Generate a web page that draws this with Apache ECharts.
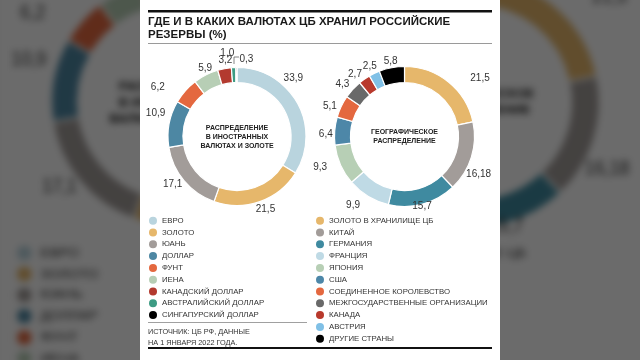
<!DOCTYPE html>
<html><head><meta charset="utf-8">
<script src="https://cdn.jsdelivr.net/npm/echarts@6/dist/echarts.min.js"></script>
<style>
html,body{margin:0;padding:0;width:640px;height:360px;overflow:hidden;background:#6a6a6a;}
#bg{position:absolute;left:0;top:0;width:640px;height:360px;transform:scale(1.79);transform-origin:316px 180px;filter:blur(2px) brightness(0.42);}
#main{position:absolute;left:0;top:0;width:640px;height:360px;}
</style></head><body>
<div id="bg"></div><div id="main"></div>
<script>
// ---- data ----
const titleText = 'ГДЕ И В КАКИХ ВАЛЮТАХ ЦБ ХРАНИЛ РОССИЙСКИЕ\nРЕЗЕРВЫ (%)';
const leftCenterText = 'РАСПРЕДЕЛЕНИЕ\nВ ИНОСТРАННЫХ\nВАЛЮТАХ И ЗОЛОТЕ';
const rightCenterText = 'ГЕОГРАФИЧЕСКОЕ\nРАСПРЕДЕЛЕНИЕ';
const sourceText = 'ИСТОЧНИК: ЦБ РФ, ДАННЫЕ\nНА 1 ЯНВАРЯ 2022 ГОДА.';

const currencyNames = ['ЕВРО','ЗОЛОТО','ЮАНЬ','ДОЛЛАР','ФУНТ','ИЕНА','КАНАДСКИЙ ДОЛЛАР','АВСТРАЛИЙСКИЙ ДОЛЛАР','СИНГАПУРСКИЙ ДОЛЛАР'];
const currencyValues = [33.9, 21.5, 17.1, 10.9, 6.2, 5.9, 3.2, 1.0, 0.3];

const countryNames = ['ЗОЛОТО В ХРАНИЛИЩЕ ЦБ','КИТАЙ','ГЕРМАНИЯ','ФРАНЦИЯ','ЯПОНИЯ','США','СОЕДИНЕННОЕ КОРОЛЕВСТВО','МЕЖГОСУДАРСТВЕННЫЕ ОРГАНИЗАЦИИ','КАНАДА','АВСТРИЯ','ДРУГИЕ СТРАНЫ'];
const countryValues = [21.5, 16.18, 15.7, 9.9, 9.3, 6.4, 5.1, 4.3, 2.7, 2.5, 5.8];

// ---- styles ----
const currencyColors = ['#b9d4de','#e6b76b','#a29c99','#4d87a3','#e4683f','#b7ceb5','#b33a2f','#3d9b83','#000000'];
const countryColors = ['#e6b76b','#a29c99','#3f8aa0','#bfdae5','#b7cfb5','#4d87a8','#e4683f','#696969','#b8392c','#80c0e6','#000000'];
// label nudges (dx, dy) to mimic the hand-placed labels of the original
const currencyLabelNudge = [[-24,-22],[-11,2],[8,0],[7,-9],[-11,0],[14,-1],[14,-2],[6,-8],[22,-2]];
const countryLabelNudge = [[13,1],[-16,15],[-17,-4],[0,4],[-3,0],[9,4],[6,2],[6,-1],[6,0],[10,-2],[12,-1]];
const FONT = '"Liberation Sans", Arial, sans-serif';

function fmt(v){ return (Number.isInteger(v) ? v.toFixed(1) : String(v)).replace('.', ','); }

function buildData(names, values, colors){
  return names.map((n,i)=>({name:n, value:values[i], itemStyle:{color:colors[i]}}));
}

function pieSeries(names, values, colors, nudge, center, radius){
  return {
    type:'pie', center:center, radius:radius, startAngle:90, clockwise:true,
    avoidLabelOverlap:false, silent:true, minShowLabelAngle:0,
    itemStyle:{borderColor:'#ffffff', borderWidth:1.2},
    label:{show:true, position:'outside', formatter:p=>fmt(p.value), fontSize:10, color:'#333', fontFamily:FONT},
    labelLine:{show:false, length:6, length2:0},
    labelLayout:function(p){ const d = nudge[p.dataIndex]; return {dx:d[0], dy:d[1], hideOverlap:false}; },
    data: buildData(names, values, colors)
  };
}

function legend(names, left){
  return {
    data:names, orient:'vertical', left:left, top:216.7, padding:0, icon:'circle',
    itemWidth:8, itemHeight:8, itemGap:3.8, selectedMode:false,
    itemStyle:{borderWidth:0},
    textStyle:{fontSize:7.8, color:'#333', fontFamily:FONT, lineHeight:8}
  };
}

const option = {
  backgroundColor:'transparent',
  animation:false,
  title:{text:titleText, left:148, top:16, padding:0, textStyle:{fontSize:11.5, fontWeight:'bold', color:'#1a1a1a', fontFamily:FONT, lineHeight:12.5}},
  legend:[legend(currencyNames,149), legend(countryNames,316)],
  graphic:[
    {type:'rect', z:-10, shape:{x:140,y:0,width:360,height:360}, style:{fill:'#ffffff'}},
    {type:'rect', shape:{x:148,y:10,width:344,height:2.5}, style:{fill:'#111'}},
    {type:'rect', shape:{x:148,y:43,width:344,height:1}, style:{fill:'#9a9a9a'}},
    {type:'rect', shape:{x:148,y:322,width:159,height:1}, style:{fill:'#a0a0a0'}},
    {type:'rect', shape:{x:148,y:347,width:344,height:2}, style:{fill:'#111'}},
    {type:'line', shape:{x1:234,y1:64,x2:234,y2:57}, style:{stroke:'#666', lineWidth:0.8}},
    {type:'line', shape:{x1:234,y1:57,x2:239,y2:57}, style:{stroke:'#666', lineWidth:0.8}},
    {type:'text', style:{text:sourceText, x:148, y:327, font:'7.3px '+FONT, fill:'#333', lineHeight:10.5}},
    {type:'text', style:{text:leftCenterText, x:237, y:137, textAlign:'center', textVerticalAlign:'middle', font:'bold 7px '+FONT, fill:'#222', lineHeight:9}},
    {type:'text', style:{text:rightCenterText, x:404.5, y:136.5, textAlign:'center', textVerticalAlign:'middle', font:'bold 7px '+FONT, fill:'#222', lineHeight:9}}
  ],
  series:[
    pieSeries(currencyNames, currencyValues, currencyColors, currencyLabelNudge, [237,136.5], [54,69]),
    pieSeries(countryNames, countryValues, countryColors, countryLabelNudge, [404.5,136.5], [54,70])
  ]
};

echarts.init(document.getElementById('bg'), null, {renderer:'canvas'}).setOption(option);
echarts.init(document.getElementById('main'), null, {renderer:'canvas'}).setOption(option);
</script>
</body></html>
